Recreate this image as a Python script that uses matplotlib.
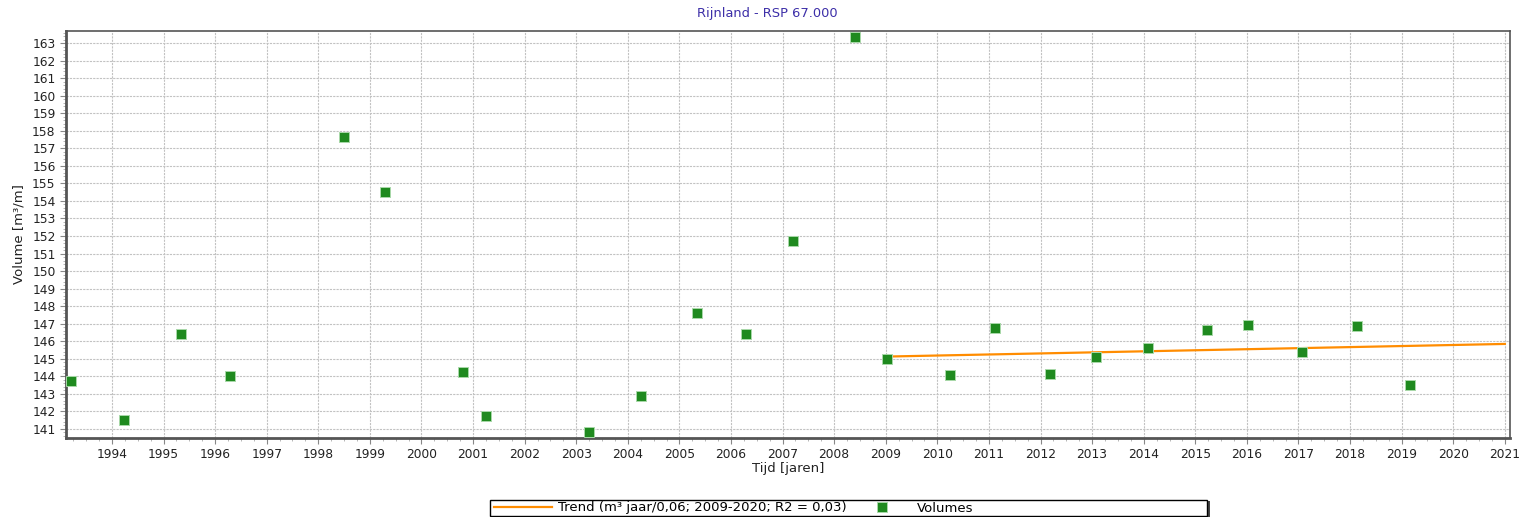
import matplotlib.pyplot as plt
from matplotlib.patches import Rectangle
from matplotlib.ticker import MultipleLocator

# measurement times (decimal years) and volumes [m3/m]
years = [1993.21, 1994.24, 1995.33, 1996.28, 1998.50, 1999.30, 2000.81, 2001.25,
         2003.25, 2004.26, 2005.34, 2006.30, 2007.20, 2008.41, 2009.03, 2010.25,
         2011.12, 2012.19, 2013.08, 2014.08, 2015.22, 2016.02, 2017.06, 2018.13,
         2019.17]
volumes = [143.70, 141.51, 146.42, 144.02, 157.64, 154.53, 144.21, 141.72,
           140.79, 142.86, 147.63, 146.42, 151.72, 163.38, 144.99, 144.08,
           146.74, 144.15, 145.12, 145.58, 146.61, 146.93, 145.37, 146.86,
           143.51]

# trend line end points
trend_years = [2009.03, 2021.0]
trend_values = [145.12, 145.84]

trend_label = "Trend (m\u00b3 jaar/0,06; 2009-2020; R2 = 0,03)"
points_label = "Volumes"

plt.rcParams['font.family'] = ['DejaVu Sans']
plt.rcParams['font.size'] = 8.5

W, H = 1526, 517
fig = plt.figure(figsize=(W / 100, H / 100), dpi=100)
ax = fig.add_axes([66 / W, 1 - 437.5 / H, (1510 - 66) / W, (437.5 - 31) / H])

line, = ax.plot(trend_years, trend_values, color='#ff8c00', linewidth=1.6,
                label=trend_label, zorder=3)
pts, = ax.plot(years, volumes, linestyle='none', marker='s', markersize=7,
               markerfacecolor='#1f8a1f', markeredgecolor='#a8d8a8',
               markeredgewidth=0.7, label=points_label, zorder=4)

ax.set_xlim(1993.11, 2021.1)
ax.set_ylim(140.5, 163.7)
ax.xaxis.set_major_locator(MultipleLocator(1))
ax.xaxis.set_minor_locator(MultipleLocator(0.25))
ax.yaxis.set_major_locator(MultipleLocator(1))
ax.yaxis.set_minor_locator(MultipleLocator(0.2))
ax.tick_params(which='major', length=4, width=0.8, color='#888888',
               labelsize=8.8, labelcolor='#222222')
ax.tick_params(which='minor', length=2, width=0.6, color='#aaaaaa')
ax.grid(which='major', color='#c2c2c2', linestyle=(0, (2, 1)), linewidth=0.8)

for side in ['left', 'bottom']:
    ax.spines[side].set_linewidth(2)
    ax.spines[side].set_color('#555555')
for side in ['top', 'right']:
    ax.spines[side].set_linewidth(1.2)
    ax.spines[side].set_color('#555555')

ax.set_xlabel("Tijd [jaren]", fontsize=9.5, color='#222222', labelpad=1)
ax.set_ylabel("Volume [m\u00b3/m]", fontsize=9.5, color='#222222', labelpad=5)
fig.text(0.5025, 1 - 14 / H, "Rijnland - RSP 67.000", ha='center', va='center',
         fontsize=9.4, color='#3d2fa8')

# legend box with a little shadow
fig.patches.append(Rectangle((493 / W, 1 - 518 / H), 717 / W, 17 / H,
                             transform=fig.transFigure, facecolor='#444444',
                             edgecolor='none', zorder=1))
fig.patches.append(Rectangle((490 / W, 1 - 516 / H), 717 / W, 16 / H,
                             transform=fig.transFigure, facecolor='white',
                             edgecolor='black', linewidth=1, zorder=2))
leg = fig.legend(handles=[line, pts], loc='center left',
                 bbox_to_anchor=(494 / W, 1 - 508 / H), ncol=2, frameon=False,
                 handlelength=4.4, handletextpad=0.45, columnspacing=0.45,
                 borderpad=0, borderaxespad=0, fontsize=9.5)
leg.set_zorder(3)

fig.savefig("out.png", dpi=100)
